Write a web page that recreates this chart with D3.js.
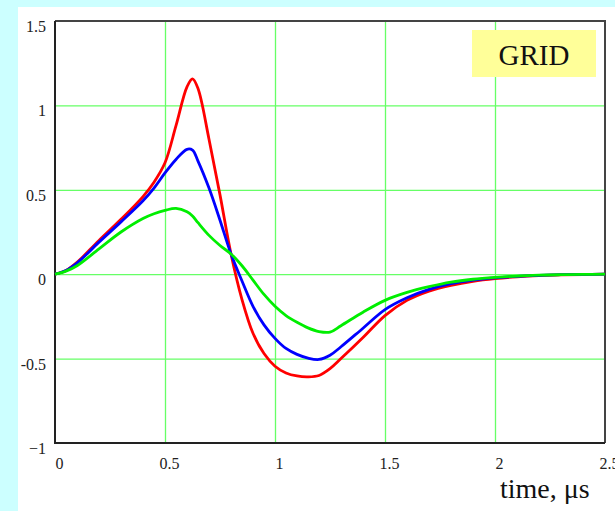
<!DOCTYPE html>
<html>
<head>
<meta charset="utf-8">
<script src="https://cdn.jsdelivr.net/npm/d3@7"></script>
<style>
  body { margin: 0; background: #ccffff; }
  svg { display: block; }
</style>
</head>
<body>
<svg></svg>
<script>
// time axis (µs) and the three curves
let times = [0, 0.05, 0.1, 0.2, 0.3, 0.4, 0.45, 0.5, 0.55, 0.6, 0.625, 0.65, 0.7, 0.75, 0.8, 0.85, 0.9, 0.95, 1.0, 1.05, 1.1, 1.15, 1.2, 1.25, 1.3, 1.4, 1.5, 1.6, 1.7, 1.8, 1.9, 2.0, 2.1, 2.2, 2.3, 2.4, 2.5];
let redValues = [0, 0.022, 0.07, 0.2, 0.325, 0.46, 0.545, 0.66, 0.88, 1.11, 1.157, 1.1, 0.8, 0.47, 0.12, -0.15, -0.35, -0.47, -0.545, -0.585, -0.603, -0.608, -0.6, -0.56, -0.5, -0.375, -0.245, -0.155, -0.1, -0.066, -0.042, -0.026, -0.015, -0.008, -0.004, -0.002, 0];
let blueValues = [0, 0.022, 0.066, 0.19, 0.31, 0.435, 0.51, 0.6, 0.68, 0.74, 0.735, 0.67, 0.51, 0.32, 0.12, -0.04, -0.19, -0.3, -0.38, -0.44, -0.475, -0.497, -0.505, -0.48, -0.43, -0.32, -0.21, -0.14, -0.09, -0.056, -0.035, -0.022, -0.013, -0.007, -0.003, -0.001, 0];
let greenValues = [0, 0.018, 0.05, 0.15, 0.25, 0.33, 0.358, 0.378, 0.39, 0.37, 0.345, 0.305, 0.23, 0.17, 0.12, 0.05, -0.035, -0.12, -0.19, -0.245, -0.285, -0.318, -0.34, -0.343, -0.305, -0.225, -0.155, -0.108, -0.074, -0.047, -0.03, -0.019, -0.011, -0.006, -0.003, -0.001, 0];

let xTicks = [0, 0.5, 1, 1.5, 2, 2.5];
let xTickLabels = ["0", "0.5", "1", "1.5", "2", "2.5"];
let yTicks = [-1, -0.5, 0, 0.5, 1, 1.5];
let yTickLabels = ["\u22121", "-0.5", "0", "0.5", "1", "1.5"];

let series = [
  { name: "red", values: redValues, color: "#ff0000" },
  { name: "blue", values: blueValues, color: "#0000ff" },
  { name: "green", values: greenValues, color: "#00ee00" }
];

let width = 615;
let height = 511;
let plotLeft = 55, plotRight = 605, plotTop = 21, plotBottom = 443;

let svg = d3.select("svg").attr("width", width).attr("height", height);

// white panel on the cyan page
svg.append("rect")
   .attr("x", 18).attr("y", 7)
   .attr("width", width - 18).attr("height", height - 7)
   .attr("fill", "#ffffff");

let xScale = d3.scaleLinear().domain([0, 2.5]).range([plotLeft, plotRight]);
let yScale = d3.scaleLinear().domain([-1, 1.5]).range([plotBottom, plotTop]);

// grid lines
svg.append("g")
   .attr("transform", `translate(0, ${plotBottom})`)
   .call(d3.axisBottom(xScale).tickValues([0.5, 1, 1.5, 2]).tickSize(-(plotBottom - plotTop)).tickFormat(""))
   .call(g => g.select(".domain").remove())
   .call(g => g.selectAll("line").attr("stroke", "#66ff66").attr("stroke-width", 1.3));

svg.append("g")
   .attr("transform", `translate(${plotLeft}, 0)`)
   .call(d3.axisLeft(yScale).tickValues([-0.5, 0, 0.5, 1]).tickSize(-(plotRight - plotLeft)).tickFormat(""))
   .call(g => g.select(".domain").remove())
   .call(g => g.selectAll("line").attr("stroke", "#66ff66").attr("stroke-width", 1.3));

// frame
svg.append("path")
   .attr("d", `M${plotLeft},${plotTop}H${plotRight}V${plotBottom}`)
   .attr("fill", "none").attr("stroke", "#444").attr("stroke-width", 2);
svg.append("path")
   .attr("d", `M${plotLeft},${plotTop}V${plotBottom}H${plotRight}`)
   .attr("fill", "none").attr("stroke", "#222").attr("stroke-width", 2);

// tick labels
svg.append("g")
   .attr("transform", `translate(0, ${plotBottom})`)
   .call(d3.axisBottom(xScale).tickValues(xTicks).tickSize(0).tickFormat((d, i) => xTickLabels[i]))
   .call(g => g.select(".domain").remove())
   .call(g => g.selectAll("text")
      .attr("font-family", "'Liberation Serif', 'Times New Roman', serif")
      .attr("font-size", 16).attr("fill", "#222")
      .attr("dx", 4).attr("y", 15));

svg.append("g")
   .attr("transform", `translate(${plotLeft}, 0)`)
   .call(d3.axisLeft(yScale).tickValues(yTicks).tickSize(0).tickFormat((d, i) => yTickLabels[i]))
   .call(g => g.select(".domain").remove())
   .call(g => g.selectAll("text")
      .attr("font-family", "'Liberation Serif', 'Times New Roman', serif")
      .attr("font-size", 16).attr("fill", "#222")
      .attr("x", -9).attr("dy", "0.65em"));

// curves
let line = d3.line()
   .x((d, i) => xScale(times[i]))
   .y(d => yScale(d))
   .curve(d3.curveCatmullRom.alpha(0.5));

svg.append("g")
   .selectAll("path")
   .data(series)
   .enter()
   .append("path")
   .attr("d", d => line(d.values))
   .attr("fill", "none")
   .attr("stroke", d => d.color)
   .attr("stroke-width", 2.8)
   .attr("stroke-linejoin", "round");

// label box
svg.append("rect")
   .attr("x", 472).attr("y", 30)
   .attr("width", 124).attr("height", 47)
   .attr("fill", "#ffff99");
svg.append("text")
   .attr("x", 534).attr("y", 65)
   .attr("text-anchor", "middle")
   .attr("font-family", "'Liberation Serif', 'Times New Roman', serif")
   .attr("font-size", 29)
   .attr("fill", "#111")
   .text("GRID");

// axis title
svg.append("text")
   .attr("x", 500).attr("y", 498)
   .attr("font-family", "'Liberation Serif', 'Times New Roman', serif")
   .attr("font-size", 28)
   .attr("fill", "#111")
   .text("time, \u03bcs");
</script>
</body>
</html>
